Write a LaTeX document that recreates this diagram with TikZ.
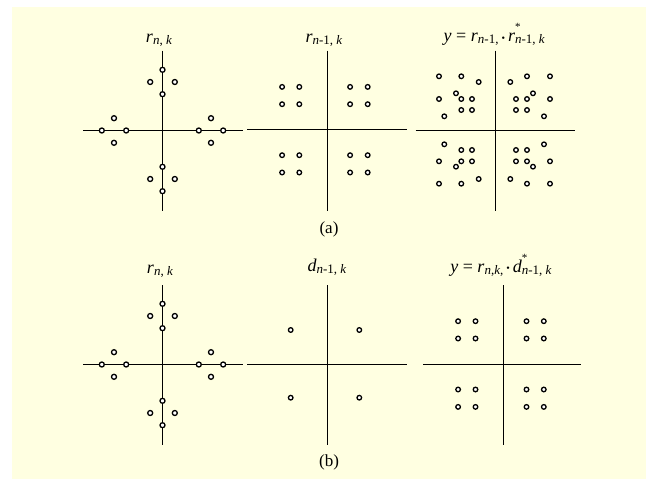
\documentclass[tikz,border=0pt]{standalone}
\usepackage{fontspec}
\setmainfont{Liberation Serif}
\definecolor{bgy}{HTML}{FFFFE1}
\newcommand{\mi}[1]{\textit{#1}}
\newcommand{\subx}[1]{\raisebox{-0.3ex}{\fontsize{13}{13}\selectfont #1}}
\newcommand{\supsub}[2]{\rlap{\raisebox{1.3ex}{\fontsize{11}{11}\selectfont #1}}\subx{#2}}
\newcommand{\dotsym}{\raisebox{0.05ex}{\fontsize{10}{10}\selectfont\textbullet}}
\begin{document}
\begin{tikzpicture}[x=1pt,y=-1pt,
  axisline/.style={line width=1.2pt},
  ptc/.style={draw, line width=1.3pt, fill=white},
  ttl/.style={anchor=base, inner sep=0pt, font=\fontsize{18}{20}\selectfont},
  captxt/.style={anchor=base, inner sep=0pt, font=\fontsize{17}{19}\selectfont}]
\useasboundingbox (0,0) rectangle (646,479);
\fill[bgy] (12,7) rectangle (646,479);

% ---------- row (a) ----------
% panel 1
\draw[axisline] (83.3,130.5) -- (242.7,130.5);
\draw[axisline] (162.5,50.7) -- (162.5,210.7);
\begin{scope}[shift={(162.5,130.5)}]
\foreach \p in {(0,-60.7),(0,-36.3),(-12.3,-48.5),(12.3,-48.5),(0,36.3),(0,60.7),(-12.3,48.5),(12.3,48.5),(-60.7,0),(-36.3,0),(-48.5,-12.3),(-48.5,12.3),(60.7,0),(36.3,0),(48.5,-12.3),(48.5,12.3)}
  \draw[ptc] \p circle (2.5);
\end{scope}
\node[ttl] (ta1) at (159,42) {\mi{r}\subx{\mi{n}, \mi{k}}};

% panel 2
\draw[axisline] (247.3,129.5) -- (406.7,129.5);
\draw[axisline] (327.5,50.7) -- (327.5,210.7);
\begin{scope}[shift={(327.5,129.5)}]
\foreach \dx in {-45.4,-28.2,22.6,40.2}
  \foreach \dy in {-42.6,-25.3,25.7,43}
    \draw[ptc] (\dx,\dy) circle (2.3);
\end{scope}
\node[ttl] (ta2) at (324,42) {\mi{r}\subx{\mi{n}-1, \mi{k}}};

% panel 3
\draw[axisline] (415.7,130.5) -- (575,130.5);
\draw[axisline] (495.5,50.7) -- (495.5,210.7);
\foreach \p in {(439,76.3),(461.3,76.3),(478.7,82),(439,99),(456,93.3),(461.3,99),(472,99),(444.3,116.3),(461.3,110),(472,110),
  (510.3,82),(527,76.3),(550,76.3),(516,99),(527,99),(533,93.3),(550,99),(516,110),(527,110),(544,116.3),
  (444.3,144.3),(461.3,150),(472,150),(439,161.3),(456,166.7),(461.3,161.3),(472,161.3),(439,183.7),(461.3,183.7),(478.7,179),
  (510.3,179),(527,183.7),(550,183.7),(516,150),(527,150),(516,161.3),(527,161.3),(533,166.7),(550,161.3),(544,144.3)}
  \draw[ptc] \p circle (2.3);
\node[ttl] (ta3) at (494.3,41.5) {\mi{y} = \mi{r}\subx{\mi{n}-1,}\,\dotsym\,\mi{r}\supsub{*}{\mi{n}-1, \mi{k}}};

\node[captxt] (capa) at (329,233) {(a)};

% ---------- row (b) ----------
% panel 1
\draw[axisline] (83.3,364.5) -- (242.7,364.5);
\draw[axisline] (162.5,285) -- (162.5,445);
\begin{scope}[shift={(162.5,364.5)}]
\foreach \p in {(0,-60.7),(0,-36.3),(-12.3,-48.5),(12.3,-48.5),(0,36.3),(0,60.7),(-12.3,48.5),(12.3,48.5),(-60.7,0),(-36.3,0),(-48.5,-12.3),(-48.5,12.3),(60.7,0),(36.3,0),(48.5,-12.3),(48.5,12.3)}
  \draw[ptc] \p circle (2.5);
\end{scope}
\node[ttl] (tb1) at (160,273) {\mi{r}\subx{\mi{n}, \mi{k}}};

% panel 2
\draw[axisline] (247.3,364.5) -- (406.7,364.5);
\draw[axisline] (327.5,285) -- (327.5,445);
\foreach \p in {(290.7,330),(359.3,330),(290.7,397.7),(359.3,397.7)}
  \draw[ptc] \p circle (2.3);
\node[ttl] (tb2) at (327,271) {\mi{d}\subx{\mi{n}-1, \mi{k}}};

% panel 3
\draw[axisline] (423.3,364.5) -- (581.3,364.5);
\draw[axisline] (503.5,285) -- (503.5,445);
\begin{scope}[shift={(503.5,364.5)}]
\foreach \dx in {-45.4,-28,23,40.3}
  \foreach \dy in {-43.3,-26,25,42.4}
    \draw[ptc] (\dx,\dy) circle (2.3);
\end{scope}
\node[ttl] (tb3) at (501,272) {\mi{y} = \mi{r}\subx{\mi{n},\mi{k},}\,\dotsym\,\mi{d}\supsub{*}{\mi{n}-1, \mi{k}}};

\node[captxt] (capb) at (329,466) {(b)};
\end{tikzpicture}
\end{document}
